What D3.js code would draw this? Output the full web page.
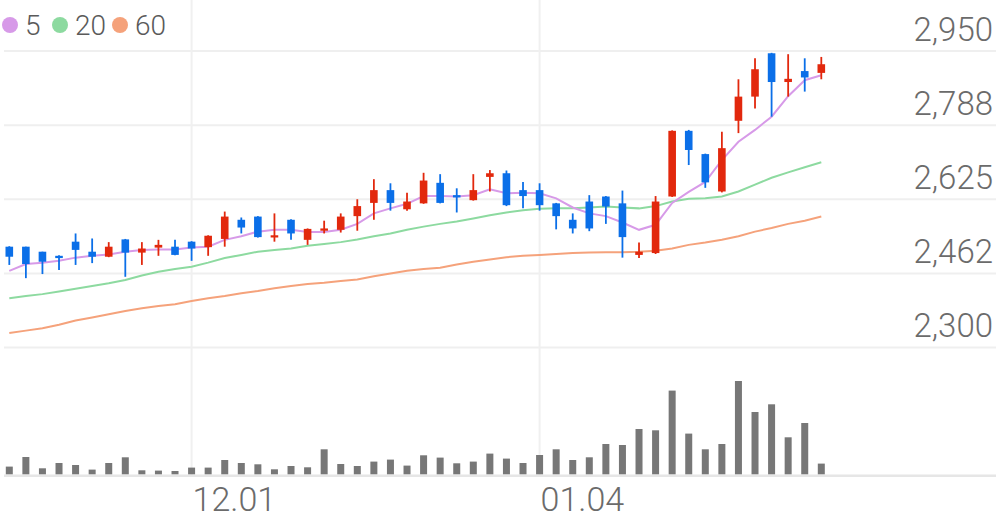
<!DOCTYPE html>
<html>
<head>
<meta charset="utf-8">
<script src="https://cdn.jsdelivr.net/npm/d3@7"></script>
<style>
  html, body { margin: 0; padding: 0; background: #fff; }
  svg { display: block; font-family: Roboto, "Noto Sans", sans-serif; }
</style>
</head>
<body>
<svg id="chart" width="996" height="519"></svg>
<script>
const dates = ["11.16","11.17","11.20","11.21","11.22","11.23","11.24","11.27","11.28","11.29","11.30",
  "12.01","12.04","12.05","12.06","12.07","12.08","12.11","12.12","12.13","12.14","12.15",
  "12.18","12.19","12.20","12.21","12.22","12.26","12.27","12.28",
  "01.02","01.03","01.04","01.05","01.08","01.09","01.10","01.11","01.12","01.15","01.16",
  "01.17","01.18","01.19","01.22","01.23","01.24","01.25","01.26","01.29"];
const open  = [2521,2521,2510,2501,2532,2510,2499,2537,2508,2519,2521,2532,2520,2538,2580,2587,2543,2580,2536,2556,
  2558,2588,2617,2645,2603,2616,2661,2634,2623,2674,2682,2645,2645,2616,2580,2620,2631,2616,2503,2507,
  2631,2775,2724,2642,2797,2850,2945,2882,2906,2902];
const high  = [2522,2521,2510,2502,2550,2539,2531,2538,2531,2536,2536,2533,2546,2598,2585,2588,2594,2581,2561,2578,
  2594,2625,2669,2660,2639,2683,2680,2649,2680,2689,2688,2663,2660,2617,2594,2634,2632,2644,2530,2632,
  2776,2777,2725,2773,2888,2934,2946,2943,2934,2937];
const low   = [2481,2452,2461,2470,2481,2485,2498,2455,2481,2501,2502,2490,2501,2521,2550,2541,2532,2536,2525,2550,
  2552,2556,2580,2600,2600,2615,2616,2596,2622,2642,2610,2605,2600,2559,2550,2555,2571,2497,2496,2505,
  2630,2700,2650,2640,2770,2824,2806,2850,2861,2888];
const close = [2499,2483,2488,2496,2514,2499,2521,2508,2517,2525,2503,2517,2545,2587,2563,2542,2546,2550,2560,2561,
  2587,2610,2645,2617,2620,2666,2617,2629,2645,2682,2612,2632,2612,2588,2561,2561,2609,2542,2510,2620,
  2775,2733,2662,2737,2850,2910,2882,2889,2892,2921];
const volume = [77,173,60,113,93,47,113,170,40,37,33,67,67,143,113,100,50,83,70,250,
  103,83,127,147,87,190,167,110,127,207,157,113,193,250,143,170,303,293,453,440,
  837,407,250,303,933,623,700,370,513,107];
const ma5  = [2468,2483,2486,2490,2497,2501,2504,2510,2514,2515,2515,2519,2521,2536,2544,2554,2558,2558,2553,2553,
  2558,2571,2594,2605,2615,2632,2632,2631,2634,2647,2638,2639,2638,2627,2607,2594,2588,2574,2558,2569,
  2617,2641,2663,2711,2751,2777,2806,2851,2886,2897];
const ma20 = [2408,2413,2417,2423,2429,2435,2441,2448,2458,2466,2472,2477,2486,2496,2503,2510,2514,2517,2523,2527,
  2531,2537,2544,2550,2558,2565,2571,2576,2583,2590,2596,2601,2604,2605,2605,2607,2609,2607,2605,2610,
  2620,2626,2627,2631,2642,2657,2672,2684,2695,2706];
const ma60 = [2332,2337,2342,2350,2359,2366,2373,2380,2386,2391,2395,2402,2408,2413,2419,2424,2430,2435,2439,2442,
  2446,2449,2456,2462,2468,2472,2475,2482,2488,2493,2498,2501,2503,2505,2507,2508,2509,2509,2510,2512,
  2517,2525,2530,2536,2544,2554,2562,2571,2578,2587];
const yTickValues = [2300, 2462.5, 2625, 2787.5, 2950];
const yTickLabels = ["2,300","2,462","2,625","2,788","2,950"];
const xTickLabels = ["12.01","01.04"];
const legendLabels = ["5","20","60"];

const UP = "#e2280d", DOWN = "#0b6fe8";
const maColors = ["#d79ae8", "#8ddaa0", "#f5a27b"];

const svg = d3.select("#chart");
const x = d3.scalePoint().domain(dates).range([9.3, 821.3]);
const y = d3.scaleLinear().domain([2300, 2950]).range([347.5, 51]);
const yv = d3.scaleLinear().domain([0, 1000]).range([474.3, 374.3]);

// horizontal grid
svg.append("g").selectAll("line").data(yTickValues).join("line")
  .attr("x1", 4).attr("x2", 996)
  .attr("y1", d => y(d)).attr("y2", d => y(d))
  .attr("stroke", "#efefef").attr("stroke-width", 2);

// vertical grid
svg.append("g").selectAll("line").data(xTickLabels).join("line")
  .attr("x1", d => x(d)).attr("x2", d => x(d))
  .attr("y1", 0).attr("y2", 475)
  .attr("stroke", "#f0f0f0").attr("stroke-width", 2);

// baseline
svg.append("line").attr("x1", 4).attr("x2", 996).attr("y1", yv(0) + 1.5).attr("y2", yv(0) + 1.5)
  .attr("stroke", "#e6e6e6").attr("stroke-width", 2.5);

// y axis labels
const yAxis = d3.axisLeft(y).tickValues(yTickValues)
  .tickFormat((d, i) => yTickLabels[i]).tickSize(0).tickPadding(0);
const ya = svg.append("g").attr("transform", "translate(993,0)").call(yAxis);
ya.select(".domain").remove();
ya.selectAll("text").attr("dy", -11).attr("font-size", 33).attr("font-weight", 300)
  .attr("fill", "#6b6b6b").attr("font-family", "Roboto");

// x axis labels
const xAxis = d3.axisBottom(x).tickValues(xTickLabels).tickSize(0).tickPadding(0);
const xa = svg.append("g").attr("transform", "translate(0,475)").call(xAxis);
xa.select(".domain").remove();
xa.selectAll("text").attr("text-anchor", "start").attr("x", 0.5).attr("y", 36).attr("dy", 0)
  .attr("font-size", 34).attr("font-weight", 300).attr("fill", "#6b6b6b").attr("font-family", "Roboto");

// volume bars
svg.append("g").selectAll("rect").data(volume).join("rect")
  .attr("x", (d, i) => x(dates[i]) - 3.5).attr("width", 7)
  .attr("y", d => yv(d)).attr("height", d => yv(0) - yv(d))
  .attr("fill", "#777777");

// MA lines
const line = d3.line().x((d, i) => x(dates[i])).y(d => y(d)).curve(d3.curveLinear);
[ma60, ma20, ma5].forEach((s, k) => {
  svg.append("path").datum(s).attr("d", line).attr("fill", "none")
    .attr("stroke", maColors[2 - k]).attr("stroke-width", 2);
});

// candles
const idx = d3.range(dates.length);
const cg = svg.append("g");
cg.selectAll("line").data(idx).join("line")
  .attr("x1", i => x(dates[i])).attr("x2", i => x(dates[i]))
  .attr("y1", i => y(high[i])).attr("y2", i => y(low[i]))
  .attr("stroke", i => close[i] >= open[i] ? UP : DOWN).attr("stroke-width", 1.8);
cg.selectAll("rect").data(idx).join("rect")
  .attr("x", i => x(dates[i]) - 3.8).attr("width", 7.6)
  .attr("y", i => y(Math.max(open[i], close[i])))
  .attr("height", i => Math.max(2.2, Math.abs(y(open[i]) - y(close[i]))))
  .attr("fill", i => close[i] >= open[i] ? UP : DOWN);

// legend
const lg = svg.append("g");
const legX = [10, 60, 120];
legendLabels.forEach((t, k) => {
  lg.append("circle").attr("cx", legX[k]).attr("cy", 25).attr("r", 8).attr("fill", maColors[k]);
  lg.append("text").attr("x", legX[k] + 15).attr("y", 35).text(t)
    .attr("font-size", 28).attr("font-weight", 300).attr("fill", "#5a5a5a").attr("font-family", "Roboto");
});
</script>
</body>
</html>
